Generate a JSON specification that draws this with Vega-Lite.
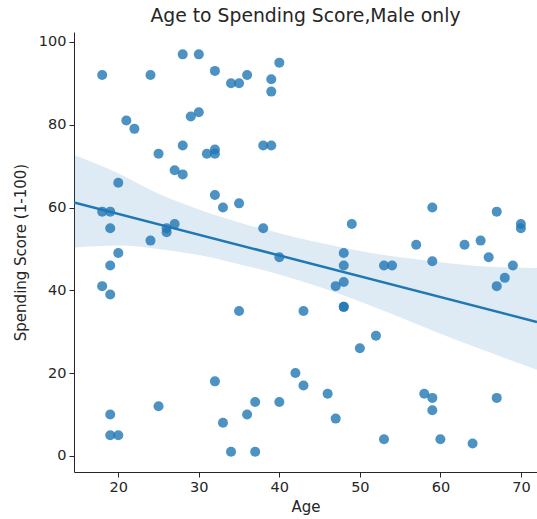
{
  "$schema": "https://vega.github.io/schema/vega-lite/v6.json",
  "autosize": {"type": "none"},
  "width": 463,
  "height": 440,
  "padding": {"left": 74, "top": 32, "right": 0, "bottom": 47},
  "background": "white",
  "config": {
    "view": {"stroke": null},
    "font": "DejaVu Sans",
    "axis": {
      "grid": false,
      "domainColor": "#262626",
      "tickColor": "#262626",
      "tickSize": 5,
      "labelColor": "#262626",
      "titleColor": "#262626",
      "labelFontSize": 14.5,
      "titleFontSize": 15,
      "titleFontWeight": "normal",
      "labelFont": "DejaVu Sans",
      "titleFont": "DejaVu Sans"
    }
  },
  "title": {"text": "Age to Spending Score,Male only", "fontSize": 18.8, "fontWeight": "normal", "color": "#262626", "font": "DejaVu Sans", "offset": 6},
  "datasets": {
    "pts": [
      {"age": 18, "score": 92}, {"age": 24, "score": 92}, {"age": 28, "score": 97}, {"age": 30, "score": 97},
      {"age": 32, "score": 93}, {"age": 34, "score": 90}, {"age": 35, "score": 90}, {"age": 36, "score": 92},
      {"age": 39, "score": 91}, {"age": 39, "score": 88}, {"age": 40, "score": 95}, {"age": 21, "score": 81},
      {"age": 22, "score": 79}, {"age": 29, "score": 82}, {"age": 30, "score": 83}, {"age": 25, "score": 73},
      {"age": 28, "score": 75}, {"age": 31, "score": 73}, {"age": 32, "score": 74}, {"age": 32, "score": 73},
      {"age": 38, "score": 75}, {"age": 39, "score": 75}, {"age": 27, "score": 69}, {"age": 28, "score": 68},
      {"age": 20, "score": 66}, {"age": 32, "score": 63}, {"age": 33, "score": 60}, {"age": 35, "score": 61},
      {"age": 18, "score": 59}, {"age": 19, "score": 59}, {"age": 19, "score": 55}, {"age": 20, "score": 49},
      {"age": 19, "score": 46}, {"age": 18, "score": 41}, {"age": 19, "score": 39}, {"age": 24, "score": 52},
      {"age": 26, "score": 55}, {"age": 26, "score": 54}, {"age": 27, "score": 56},
      {"age": 38, "score": 55}, {"age": 40, "score": 48}, {"age": 49, "score": 56}, {"age": 48, "score": 49},
      {"age": 48, "score": 46}, {"age": 48, "score": 42}, {"age": 47, "score": 41}, {"age": 48, "score": 36},
      {"age": 48, "score": 36}, {"age": 35, "score": 35}, {"age": 43, "score": 35}, {"age": 50, "score": 26},
      {"age": 42, "score": 20}, {"age": 32, "score": 18},
      {"age": 59, "score": 60}, {"age": 67, "score": 59}, {"age": 70, "score": 56}, {"age": 70, "score": 55},
      {"age": 57, "score": 51}, {"age": 63, "score": 51}, {"age": 65, "score": 52}, {"age": 66, "score": 48},
      {"age": 59, "score": 47}, {"age": 53, "score": 46}, {"age": 54, "score": 46}, {"age": 69, "score": 46},
      {"age": 68, "score": 43}, {"age": 67, "score": 41}, {"age": 52, "score": 29},
      {"age": 19, "score": 10}, {"age": 19, "score": 5}, {"age": 20, "score": 5}, {"age": 25, "score": 12},
      {"age": 33, "score": 8}, {"age": 43, "score": 17}, {"age": 46, "score": 15}, {"age": 36, "score": 10},
      {"age": 37, "score": 13}, {"age": 40, "score": 13}, {"age": 47, "score": 9}, {"age": 34, "score": 1},
      {"age": 37, "score": 1}, {"age": 58, "score": 15}, {"age": 59, "score": 14}, {"age": 59, "score": 11},
      {"age": 67, "score": 14}, {"age": 53, "score": 4}, {"age": 60, "score": 4}, {"age": 64, "score": 3}
    ],
    "band": [
      {"age": 14.5, "lo": 50.3, "hi": 72.7},
      {"age": 20, "lo": 50.8, "hi": 68.3},
      {"age": 25, "lo": 50.0, "hi": 63.3},
      {"age": 30, "lo": 48.5, "hi": 59.5},
      {"age": 35, "lo": 46.3, "hi": 56.4},
      {"age": 40, "lo": 43.8, "hi": 53.8},
      {"age": 45, "lo": 40.8, "hi": 51.5},
      {"age": 50, "lo": 37.3, "hi": 49.5},
      {"age": 55, "lo": 33.5, "hi": 48.0},
      {"age": 60, "lo": 29.5, "hi": 46.8},
      {"age": 65, "lo": 25.8, "hi": 45.8},
      {"age": 72, "lo": 20.8, "hi": 45.4}
    ]
  },
  "layer": [
    {
      "data": {"name": "band"},
      "mark": {"type": "area", "color": "#1f77b4", "opacity": 0.15, "interpolate": "monotone", "clip": true},
      "encoding": {
        "x": {"field": "age", "type": "quantitative"},
        "y": {"field": "lo", "type": "quantitative"},
        "y2": {"field": "hi"}
      }
    },
    {
      "data": {"name": "pts"},
      "mark": {"type": "circle", "color": "#1f77b4", "opacity": 0.8, "size": 100},
      "encoding": {
        "x": {"field": "age", "type": "quantitative", "title": "Age",
              "scale": {"domain": [14.5, 72], "nice": false, "zero": false},
              "axis": {"values": [20, 30, 40, 50, 60, 70], "titlePadding": 6, "labelPadding": 3}},
        "y": {"field": "score", "type": "quantitative", "title": "Spending Score (1-100)",
              "scale": {"domain": [-3.9, 102.4], "nice": false, "zero": false},
              "axis": {"values": [0, 20, 40, 60, 80, 100], "titlePadding": 10, "labelPadding": 3}}
      }
    },
    {
      "data": {"name": "pts"},
      "transform": [{"regression": "score", "on": "age", "extent": [14.5, 72]}],
      "mark": {"type": "line", "color": "#1f77b4", "strokeWidth": 2.5, "clip": true},
      "encoding": {
        "x": {"field": "age", "type": "quantitative"},
        "y": {"field": "score", "type": "quantitative"}
      }
    }
  ]
}
